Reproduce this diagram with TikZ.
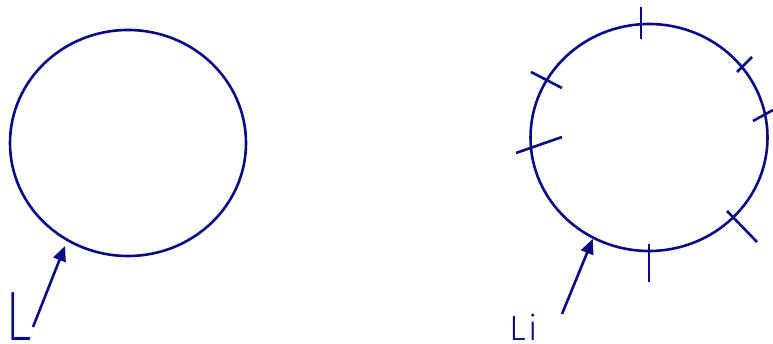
\documentclass[tikz,border=0pt]{standalone}
\usepackage{fontspec}
\newfontfamily\lightsans{Fira Sans Light}
\newfontfamily\thinsans{Fira Sans ExtraLight}
\usetikzlibrary{arrows.meta,shapes.geometric}
\definecolor{DiagBlue}{RGB}{10,10,135}

\begin{document}
\begin{tikzpicture}[x=1pt,y=-1pt,
    ring/.style={ellipse, draw=DiagBlue, line width=2.6pt, inner sep=0pt},
    tickmark/.style={DiagBlue, line width=2.6pt},
    lbl/.style={text=DiagBlue, inner sep=0pt, anchor=south west},
    arrow/.style={-{Triangle[length=15pt,width=13pt]}, line width=2.6pt, DiagBlue}
]
\useasboundingbox (0,0) rectangle (773,344);

% plain ring
\node[ring, minimum width=236pt, minimum height=226pt] (L) at (128,143) {};
\node[lbl, xscale=0.8, font=\thinsans\fontsize{70}{70}\selectfont] (Llabel) at (5,341) {L};
\coordinate (Ltail) at (33,327);
\coordinate (Ltip) at (65,246);
\draw[arrow] (Ltail) -- (Ltip);

% ring with ticks
\node[ring, minimum width=237pt, minimum height=227pt] (Li) at (649,137.5) {};
\node[lbl, font=\lightsans\fontsize{35}{35}\selectfont] (Lilabel) at (509,341) {L\kern3pt i};
\coordinate (Litail) at (562,314);
\draw[arrow] (Litail) -- (Li.-119.4);

\foreach \xa/\ya/\xb/\yb in {641/7/641/39, 737/72/752/57, 753/121/773/110,
    727/211/757/242, 649/244/649/282, 531/72/562/88, 516/153/562/137}
  \draw[tickmark] (\xa,\ya) -- (\xb,\yb);

\end{tikzpicture}
\end{document}
